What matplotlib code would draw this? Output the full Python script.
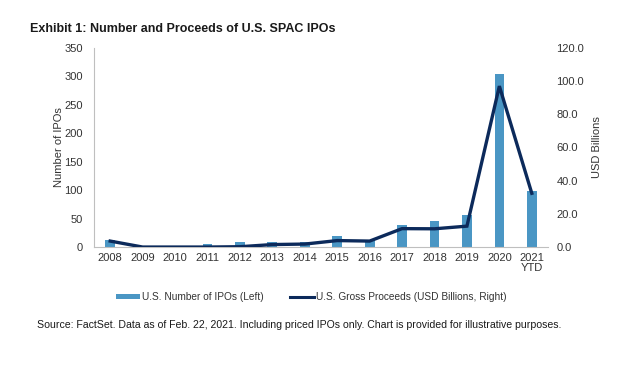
import matplotlib
matplotlib.use("Agg")
import matplotlib.pyplot as plt
from matplotlib.lines import Line2D
from matplotlib.patches import Patch
import numpy as np

plt.rcParams['font.family'] = ['Liberation Sans', 'DejaVu Sans']

years = ["2008", "2009", "2010", "2011", "2012", "2013", "2014", "2015",
         "2016", "2017", "2018", "2019", "2020", "2021\nYTD"]
num_ipos = [13, 0, 0, 5, 9, 9, 9, 19, 13, 38, 46, 56, 305, 98]
proceeds = [3.6, 0.0, 0.0, 0.0, 0.2, 1.5, 1.8, 3.9, 3.6, 11.1, 11.0, 12.6, 97.0, 32.4]

bar_color = "#4A96C4"
line_color = "#0C2A5B"
text_color = "#333333"

fig = plt.figure(figsize=(6.42, 3.66), dpi=100)
ax = fig.add_axes([0.1464, 0.325, 0.7072, 0.544])
x = np.arange(len(years))
ax.bar(x, num_ipos, width=0.3, color=bar_color, zorder=2)
ax.set_ylim(0, 350)
ax.set_yticks(np.arange(0, 351, 50))
ax.set_xlim(-0.5, len(years) - 0.5)
ax.set_xticks(x)
ax.set_xticklabels(years, fontsize=8, color=text_color, linespacing=1.0)
ax.tick_params(axis='both', length=0, labelsize=8, colors=text_color)
ax.tick_params(axis='x', pad=4)
ax.tick_params(axis='y', pad=8)
ax.set_ylabel("Number of IPOs", fontsize=8, color=text_color, labelpad=0)
for s in ["top", "right"]:
    ax.spines[s].set_visible(False)
for s in ["left", "bottom"]:
    ax.spines[s].set_color("#BFBFBF")
    ax.spines[s].set_linewidth(0.8)

ax2 = ax.twinx()
ax2.plot(x, proceeds, color=line_color, linewidth=2.4, solid_joinstyle='miter', zorder=3)
ax2.set_ylim(0, 120)
ax2.set_yticks(np.arange(0, 121, 20))
ax2.set_yticklabels([f"{v:.1f}" for v in np.arange(0, 121, 20)])
ax2.tick_params(axis='y', length=0, labelsize=8, colors=text_color, pad=6)
ax2.set_ylabel("USD Billions", fontsize=8, color=text_color, labelpad=6)
for s in ["top", "right", "left", "bottom"]:
    ax2.spines[s].set_visible(False)

fig.text(0.047, 0.921, "Exhibit 1: Number and Proceeds of U.S. SPAC IPOs",
         fontsize=9, fontweight='bold', color="#1a1a1a", va='center',
         family=['Liberation Sans Narrow', 'Liberation Sans', 'DejaVu Sans'])

handles = [Patch(facecolor=bar_color, edgecolor='none'),
           Line2D([0], [0], color=line_color, linewidth=2.2)]
fig.legend(handles, ["U.S. Number of IPOs (Left)", "U.S. Gross Proceeds (USD Billions, Right)"],
           loc='center', bbox_to_anchor=(0.485, 0.188), ncol=2, frameon=False,
           fontsize=7.3, handlelength=2.4, handleheight=0.5, handletextpad=0.2,
           columnspacing=2.6, labelcolor=text_color)

fig.text(0.058, 0.112,
         "Source: FactSet. Data as of Feb. 22, 2021. Including priced IPOs only. Chart is provided for illustrative purposes.",
         fontsize=7.6, color="#1a1a1a", va='center')

fig.savefig("out.png", dpi=100, facecolor='white')
